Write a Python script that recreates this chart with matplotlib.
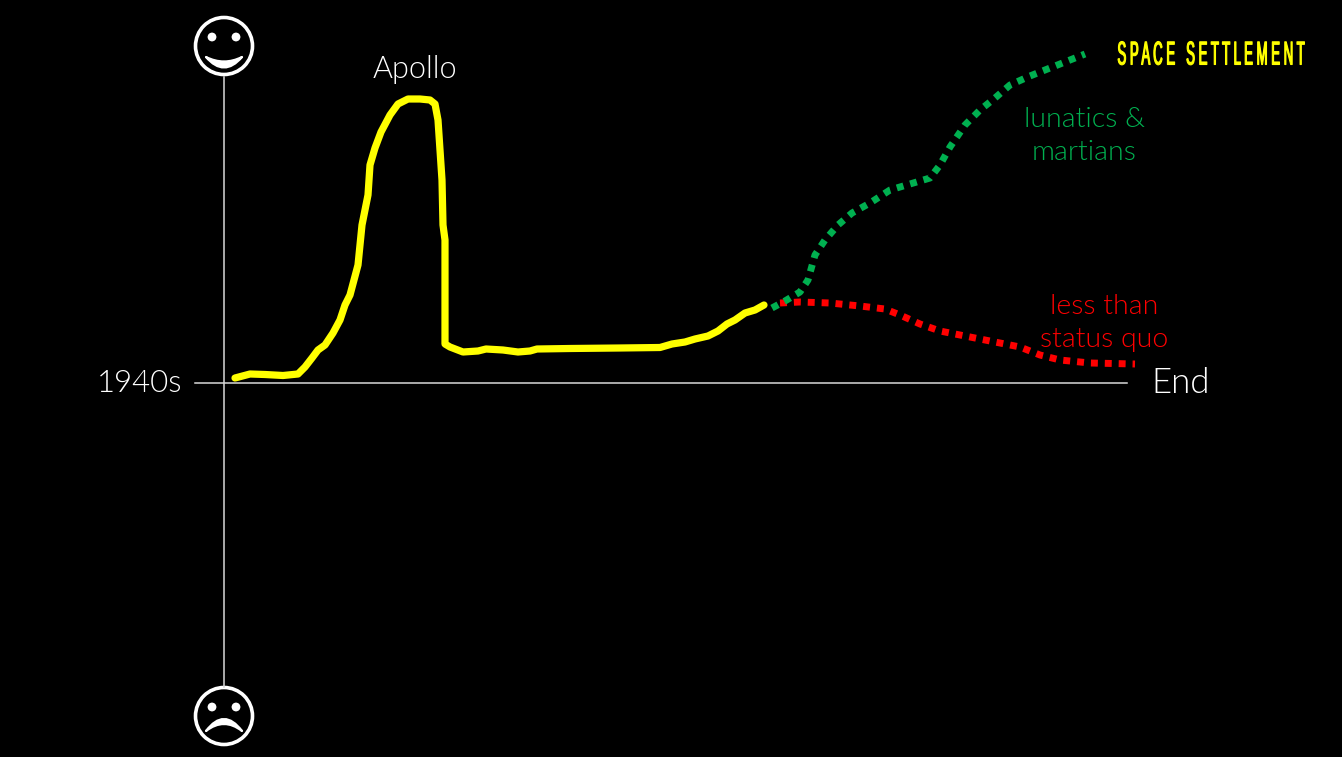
import matplotlib.pyplot as plt
from matplotlib.patches import Circle, PathPatch
from matplotlib.path import Path
from matplotlib.patheffects import AbstractPathEffect
from matplotlib.transforms import Affine2D

# story coordinates: origin where the two axes cross
yellow_x = [11, 26, 41, 59, 74, 81, 88, 94, 101, 109, 116, 121, 126, 134, 138, 144, 146,
            151, 157, 166, 174, 184, 196, 206, 211, 214, 216, 218, 219, 221, 221, 221,
            226, 239, 254, 262, 279, 294, 306, 313, 346, 396, 436, 448, 461, 471, 484,
            494, 503, 511, 521, 531, 540]
yellow_y = [5, 9, 8.5, 7.5, 9, 16, 25, 33, 38, 50, 63, 78, 88, 118, 158, 188, 218,
            235, 251, 268, 279, 284, 284, 283, 279, 263, 233, 203, 158, 143, 83, 39,
            36, 31, 32, 34, 33, 31, 32, 34, 34.5, 35, 35.5, 39, 41, 44, 47,
            52, 59, 63, 70, 73, 78]

green_x = [548, 561, 576, 584, 591, 601, 614, 628, 646, 666, 686, 706, 716, 726, 741,
           756, 771, 786, 806, 826, 846, 861]
green_y = [75, 82, 91, 103, 128, 143, 158, 170, 180, 193, 199, 205, 218, 236, 258,
           273, 285, 298, 307, 315, 323, 329]

red_x = [556, 576, 606, 636, 661, 676, 696, 716, 741, 766, 796, 816, 836, 866, 911]
red_y = [80, 81, 80, 77, 74, 68, 59, 52, 47, 42, 36, 28, 23, 20, 19]

axis_color = '#d9d9d9'
yellow = '#ffff00'
green = '#00b050'
red = '#ff0000'
white = '#ffffff'
body_font = ['Lato', 'DejaVu Sans']


class TallText(AbstractPathEffect):
    # stretches glyphs up and down about one height, the title font is very narrow
    def __init__(self, y0, factor, stroke):
        super().__init__()
        self.y0 = y0
        self.factor = factor
        self.stroke = stroke

    def draw_path(self, renderer, gc, tpath, affine, rgbFace=None):
        stretch = Affine2D().translate(0, -self.y0).scale(1, self.factor).translate(0, self.y0)
        gc0 = renderer.new_gc()
        gc0.copy_properties(gc)
        gc0.set_linewidth(self.stroke)
        renderer.draw_path(gc0, tpath, affine + stretch, rgbFace)
        gc0.restore()


fig = plt.figure(figsize=(13.42, 7.57), dpi=100, facecolor='black')
ax = fig.add_axes([0, 0, 1, 1])
ax.set_xlim(-224, 1118)
ax.set_ylim(-374, 383)
ax.axis('off')

ax.plot([0, 0], [-304, 306], color=axis_color, lw=1.1)
ax.plot([-29, 903], [0, 0], color=axis_color, lw=1.1)

ax.plot(yellow_x, yellow_y, color=yellow, lw=5.2, solid_joinstyle='round', solid_capstyle='round')
ax.plot(red_x, red_y, color=red, lw=5, linestyle=(0, (1, 1)), zorder=2)
ax.plot(green_x, green_y, color=green, lw=5, linestyle=(0, (1, 1)), zorder=3)


def face(cy, happy):
    ax.add_patch(Circle((0, cy), 28.5, fill=False, ec=white, lw=2.6))
    ax.add_patch(Circle((-12, cy + 9), 4.4, fc=white, ec='none'))
    ax.add_patch(Circle((12, cy + 9), 4.4, fc=white, ec='none'))
    if happy:
        verts = [(-18, cy - 11), (0, cy - 20), (18, cy - 11), (18, cy - 11),
                 (0, cy - 32), (-18, cy - 11), (-18, cy - 11)]
    else:
        verts = [(-18, cy - 15), (0, cy + 9), (18, cy - 15), (18, cy - 15),
                 (0, cy - 1), (-18, cy - 15), (-18, cy - 15)]
    codes = [Path.MOVETO, Path.CURVE3, Path.CURVE3, Path.LINETO,
             Path.CURVE3, Path.CURVE3, Path.CLOSEPOLY]
    ax.add_patch(PathPatch(Path(verts, codes), fc=white, ec=white, lw=1.6, joinstyle='round'))


face(337, True)
face(-333, False)

ax.text(-42, -1, '1940s', color=white, fontsize=22.5, family=body_font, weight=300, ha='right', va='center')
ax.text(927, 0, 'End', color=white, fontsize=25, family=body_font, weight=300, ha='left', va='center')
ax.text(191, 313, 'Apollo', color=white, fontsize=22, family=body_font, weight=300, ha='center', va='center')
ax.text(860, 247, 'lunatics &\nmartians', color=green, fontsize=20.5, family=body_font, weight=300,
        ha='center', va='center', linespacing=1.4)
ax.text(880, 60, 'less than\nstatus quo', color=red, fontsize=20.5, family=body_font, weight=300,
        ha='center', va='center', linespacing=1.4)

title_y = 326
title_pixel_y = ax.transData.transform((0, title_y))[1]
ax.text(987, title_y, 'S P A C E   S E T T L E M E N T', color=yellow, fontsize=9.5,
        family=['Liberation Sans', 'DejaVu Sans'], ha='center', va='center',
        path_effects=[TallText(title_pixel_y, 2.5, 0.8)])

plt.savefig('out.png', dpi=100, facecolor='black')
